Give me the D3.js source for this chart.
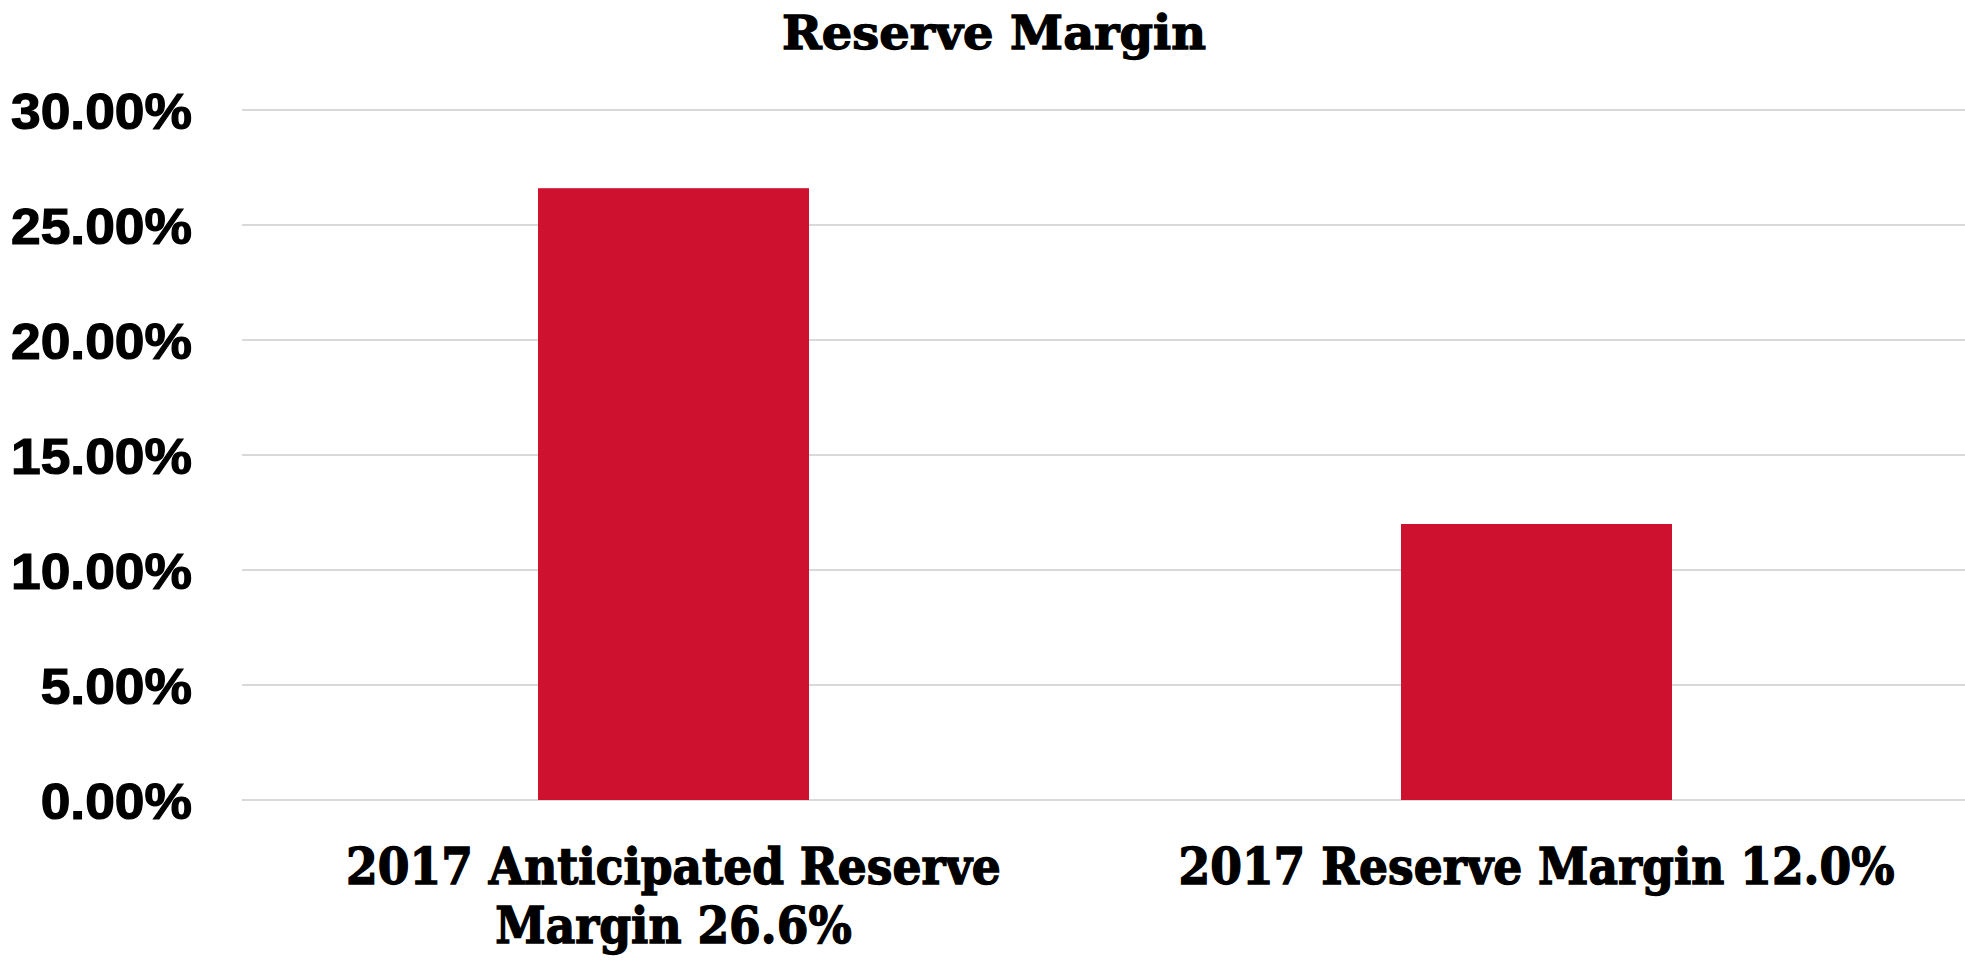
<!DOCTYPE html>
<html>
<head>
<meta charset="utf-8">
<script src="https://cdn.jsdelivr.net/npm/d3@7"></script>
<style>
  html, body { margin: 0; padding: 0; background: #ffffff; }
  svg { display: block; }
</style>
</head>
<body>
<svg id="chart" width="1965" height="965"></svg>
<script>
// Reserve margin, in percent
const categories = ["2017 Anticipated Reserve Margin 26.6%", "2017 Reserve Margin 12.0%"];
const categoryLines = [["2017 Anticipated Reserve", "Margin 26.6%"], ["2017 Reserve Margin 12.0%"]];
const values = [26.6, 12.0];
const yTicks = [0, 5, 10, 15, 20, 25, 30];
const title = "Reserve Margin";

const W = 1965, H = 965;
const plot = { left: 242, right: 1968, top: 110, bottom: 800 };
const slab = "'DejaVu Serif', serif";
const sans = "'Liberation Sans', Arial, sans-serif";

const svg = d3.select("#chart");

const x = d3.scaleBand().domain(categories).range([plot.left, plot.right]).padding(0);
const y = d3.scaleLinear().domain([0, 30]).range([plot.bottom, plot.top]);
const barW = x.bandwidth() * 0.314;

// squeeze text horizontally to a given fraction of its natural width
function condense(sel, k) {
  sel.each(function () {
    const n = this.getComputedTextLength();
    d3.select(this).attr("textLength", n * k).attr("lengthAdjust", "spacingAndGlyphs");
  });
}

// gridlines
svg.append("g")
  .selectAll("line")
  .data(yTicks)
  .join("line")
  .attr("x1", plot.left)
  .attr("x2", W)
  .attr("y1", d => y(d))
  .attr("y2", d => y(d))
  .attr("stroke", "#d9d9d9")
  .attr("stroke-width", 2);

// bars
svg.append("g")
  .selectAll("rect")
  .data(categories)
  .join("rect")
  .attr("x", d => x(d) + x.bandwidth() / 2 - barW / 2)
  .attr("width", barW)
  .attr("y", (d, i) => y(values[i]))
  .attr("height", (d, i) => y(0) - y(values[i]))
  .attr("fill", "#ce112e");

// y axis labels
const yAxis = d3.axisLeft(y)
  .tickValues(yTicks)
  .tickFormat(d => d3.format(".2f")(d) + "%")
  .tickSize(0)
  .tickPadding(0);

const yG = svg.append("g")
  .attr("transform", `translate(${192},0)`)
  .call(yAxis);
yG.select(".domain").remove();
const yText = yG.selectAll("text")
  .attr("font-family", sans)
  .attr("font-weight", "bold")
  .attr("font-size", 50)
  .attr("fill", "#000")
  .attr("stroke", "#000")
  .attr("stroke-width", 1.2)
  .attr("dy", "0.36em");
{
  const n = yText.filter(d => d === 30).node().getComputedTextLength();
  condense(yText, 181 / n);
}

// x category labels
const xG = svg.append("g");
const labels = xG.selectAll("text")
  .data(categories)
  .join("text")
  .attr("x", d => x(d) + x.bandwidth() / 2)
  .attr("text-anchor", "middle")
  .attr("font-family", slab)
  .attr("font-weight", "bold")
  .attr("font-size", 50)
  .attr("fill", "#000")
  .attr("stroke", "#000")
  .attr("stroke-width", 1.4);
labels.selectAll("tspan")
  .data((d, i) => categoryLines[i].map((t, j) => ({ t, j, cx: x(d) + x.bandwidth() / 2 })))
  .join("tspan")
  .attr("x", d => d.cx)
  .attr("y", d => 884 + d.j * 59)
  .text(d => d.t);
{
  const ref = labels.selectAll("tspan").filter(d => d.t === "2017 Reserve Margin 12.0%").node();
  const k = 716 / ref.getComputedTextLength();
  labels.selectAll("tspan").each(function () {
    const n = this.getComputedTextLength();
    d3.select(this).attr("textLength", n * k).attr("lengthAdjust", "spacingAndGlyphs");
  });
}

// title
const t = svg.append("text")
  .attr("x", 994)
  .attr("y", 49)
  .attr("text-anchor", "middle")
  .attr("font-family", slab)
  .attr("font-weight", "bold")
  .attr("font-size", 47)
  .attr("fill", "#000")
  .attr("stroke", "#000")
  .attr("stroke-width", 1.3)
  .text(title);
condense(t, 424 / t.node().getComputedTextLength());
</script>
</body>
</html>
